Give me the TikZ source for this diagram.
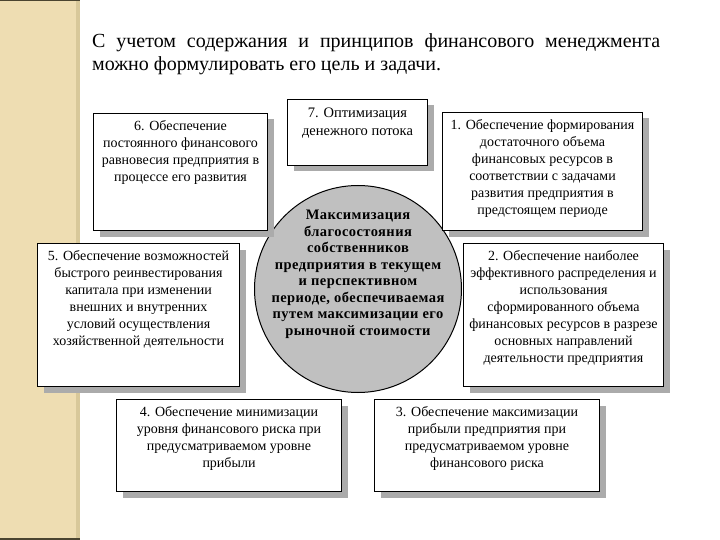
\documentclass[tikz,border=0pt]{standalone}
\usepackage{fontspec}
\setmainfont{Liberation Serif}
\usetikzlibrary{shadows}
\definecolor{band}{HTML}{EEDDB2}
\definecolor{bandedge}{HTML}{D8C89A}
\definecolor{bandline}{HTML}{4A4430}
\definecolor{circfill}{HTML}{C0C0C0}
\newcommand\bxtext[4][14pt]{\parbox[t][#3][t]{#2}{\centering\fontsize{#1}{17pt}\selectfont\vspace{7pt}#4\par}}
\tikzset{
  box/.style={draw=black, line width=1pt, fill=white, inner sep=0pt, anchor=north west,
    drop shadow={shadow xshift=6pt, shadow yshift=-6pt, fill=black!33, opacity=1}},
  goal/.style={circle, draw=black, line width=1pt, fill=circfill, minimum size=207pt, inner sep=0pt},
  goaltext/.style={inner sep=0pt, align=center, font=\bfseries\fontsize{14.5pt}{16.5pt}\selectfont\addfontfeature{LetterSpace=3}},
  titletext/.style={anchor=north west, inner sep=0pt, font=\fontsize{20pt}{23pt}\selectfont}
}
\begin{document}
\begin{tikzpicture}[x=1pt,y=1pt]
\useasboundingbox (0,0) rectangle (720,-540);
% left band
\fill[band] (0,0) rectangle (80,-540);
\fill[bandedge] (76,0) rectangle (80,-540);
\fill[bandline] (0,0) rectangle (80,-1.5);
\fill[bandline] (0,-538) rectangle (80,-540);
% title
\node[titletext] (title) at (92,-33) {\parbox[t]{568pt}{\makebox[568pt][s]{С учетом содержания и принципов финансового менеджмента}\\
можно формулировать его цель и задачи.}};
% central circle
\node[goal] (goal) at (358,-289) {};
\node[goaltext] (goaltxt) at (358,-274.5) {Максимизация\\ благосостояния\\ собственников\\ предприятия в текущем\\ и перспективном\\ периоде, обеспечиваемая\\ путем максимизации его\\ рыночной стоимости};
% boxes
\node[box] (b7) at (287,-99) {\parbox[t][66pt][t]{140pt}{\centering\fontsize{14.5pt}{18pt}\selectfont\vspace{8pt}7. Оптимизация\\ денежного потока\par}};
\node[box] (b6) at (93,-113) {\bxtext{174pt}{117pt}{6. Обеспечение\\ постоянного финансового\\ равновесия предприятия в\\ процессе его развития}};
\node[box] (b1) at (442,-112) {\bxtext{200pt}{118pt}{1. Обеспечение формирования\\ достаточного объема\\ финансовых ресурсов в\\ соответствии с задачами\\ развития предприятия в\\ предстоящем периоде}};
\node[box] (b5) at (37,-243) {\bxtext{202pt}{143pt}{5. Обеспечение возможностей\\ быстрого реинвестирования\\ капитала при изменении\\ внешних и внутренних\\ условий осуществления\\ хозяйственной деятельности}};
\node[box] (b2) at (463,-243) {\bxtext{200pt}{143pt}{2. Обеспечение наиболее\\ эффективного распределения и\\ использования\\ сформированного объема\\ финансовых ресурсов в разрезе\\ основных направлений\\ деятельности предприятия}};
\node[box] (b4) at (116,-399) {\bxtext{225pt}{92pt}{4. Обеспечение минимизации\\ уровня финансового риска при\\ предусматриваемом уровне\\ прибыли}};
\node[box] (b3) at (374,-399) {\bxtext{225pt}{92pt}{3. Обеспечение максимизации\\ прибыли предприятия при\\ предусматриваемом уровне\\ финансового риска}};
\end{tikzpicture}
\end{document}
